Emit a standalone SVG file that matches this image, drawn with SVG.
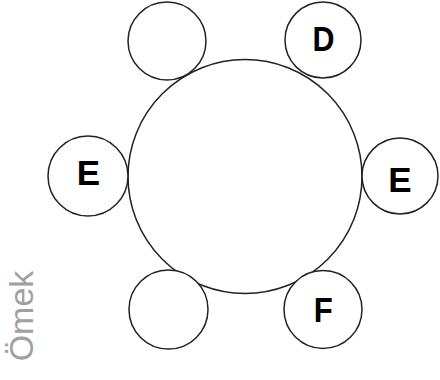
<svg xmlns="http://www.w3.org/2000/svg" width="440" height="380" viewBox="0 0 440 380">
<style>
.c{fill:#fff;stroke:#222;stroke-width:1.5}
.t{font-family:"Liberation Sans",Arial,sans-serif;font-weight:bold;font-size:35px;fill:#000;text-anchor:middle}
.v{font-family:"Liberation Sans",Arial,sans-serif;font-size:34px;fill:#a0a0a0;text-anchor:middle}
</style>
<rect width="440" height="380" fill="#fff"/>
<g id="table"><circle class="c" cx="245" cy="176.5" r="117"/></g>
<g id="seat-tl"><circle class="c" cx="167" cy="41" r="39"/></g>
<g id="seat-tr"><circle class="c" cx="323" cy="40" r="38"/><text class="t" x="323.5" y="50.5" textLength="22" lengthAdjust="spacingAndGlyphs">D</text></g>
<g id="seat-l"><circle class="c" cx="88" cy="176" r="40"/><text class="t" x="88.5" y="185">E</text></g>
<g id="seat-r"><circle class="c" cx="400" cy="176" r="38"/><text class="t" x="400" y="192">E</text></g>
<g id="seat-bl"><circle class="c" cx="168.5" cy="309.5" r="39.5"/></g>
<g id="seat-br"><circle class="c" cx="323" cy="309.5" r="39"/><text class="t" x="323.3" y="321.5" textLength="19" lengthAdjust="spacingAndGlyphs">F</text></g>
<g id="connectors"></g>
<text class="v" transform="translate(33,316) rotate(-90)">Ömek</text>
</svg>
